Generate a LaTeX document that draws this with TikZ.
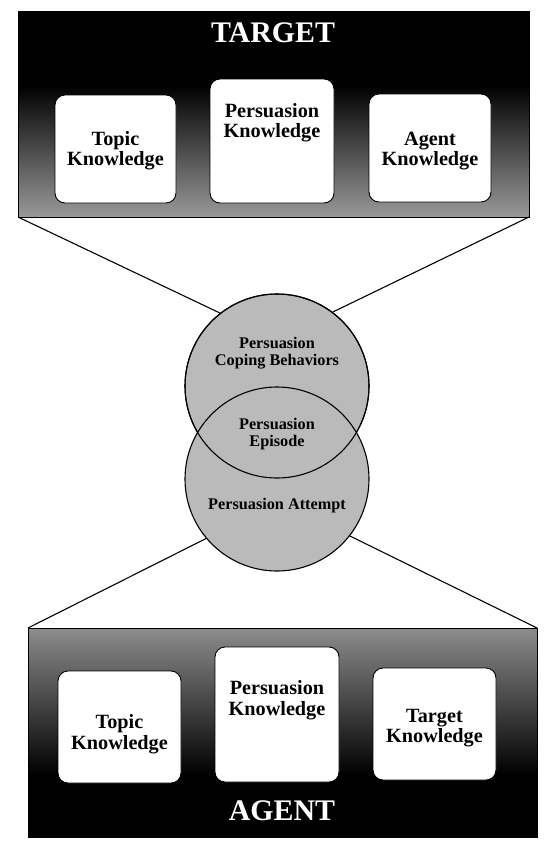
\documentclass[tikz,border=0pt]{standalone}
\usepackage{fontspec}
\setmainfont{Liberation Serif}
\tikzset{
  kbox/.style={draw=black, line width=0.9bp, fill=white, rounded corners=10bp, inner sep=0pt},
  ktext/.style={font=\bfseries\fontsize{20.3}{20.5}\selectfont, align=center, inner sep=0pt},
  ctext/.style={font=\bfseries\fontsize{16.3}{17.5}\selectfont, align=center, inner sep=0pt},
  ptitle/.style={font=\bfseries\fontsize{30}{30}\selectfont, text=white, inner sep=0pt},
  venn/.style={circle, draw=black, line width=1.1bp, fill=black!27, minimum size=184bp, inner sep=0pt},
  conn/.style={line width=1.1bp, draw=black},
  frame/.style={draw=black, line width=0.9bp},
}
\begin{document}
\begin{tikzpicture}[x=1bp, y=-1bp]
\useasboundingbox[fill=white] (0,0) rectangle (554,852);

% ---- top panel (TARGET) ----
\fill[black] (18,11) rectangle (529,86);
\shade[top color=black, bottom color=black!40] (18,85) rectangle (529,217);
\draw[frame] (18,11) rectangle (529,217);
\coordinate (tpSW) at (18,217);
\coordinate (tpSE) at (529,217);
\node[ptitle] (target) at (273,33) {TARGET};

\node[kbox, minimum width=121bp, minimum height=108bp] (tTopic) at (115.5,149) {};
\node[ktext] (tTopicT) at (115.5,151) {Topic\\Knowledge};
\node[kbox, minimum width=124bp, minimum height=124bp] (tPers) at (272,141) {};
\node[ktext] (tPersT) at (272,123) {Persuasion\\Knowledge};
\node[kbox, minimum width=122bp, minimum height=108bp] (tAgent) at (430,148) {};
\node[ktext] (tAgentT) at (430,151) {Agent\\Knowledge};

% ---- bottom panel (AGENT) ----
\shade[top color=black!45, bottom color=black] (28,628) rectangle (537,775);
\fill[black] (28,774) rectangle (537,837);
\draw[frame] (28,628) rectangle (537,837);
\coordinate (bpNW) at (28,628);
\coordinate (bpNE) at (537,628);
\node[ptitle] (agent) at (282,811) {AGENT};

\node[kbox, minimum width=123bp, minimum height=112bp] (bTopic) at (119.5,727) {};
\node[ktext] (bTopicT) at (119.5,734) {Topic\\Knowledge};
\node[kbox, minimum width=124bp, minimum height=135bp] (bPers) at (277,714.5) {};
\node[ktext] (bPersT) at (277,700) {Persuasion\\Knowledge};
\node[kbox, minimum width=123bp, minimum height=112bp] (bTarget) at (434.5,724) {};
\node[ktext] (bTargetT) at (434.5,728) {Target\\Knowledge};

% ---- circles ----
\node[venn] (coping) at (277,386) {};
\node[venn] (attempt) at (277,479) {};
\draw[line width=1.1bp] (coping.center) circle[radius=92bp];

\draw[conn] (tpSW) -- (coping.128);
\draw[conn] (tpSE) -- (coping.53);
\draw[conn] (bpNW) -- (attempt.220);
\draw[conn] (bpNE) -- (attempt.322);

\node[ctext] (copingT) at (277,353) {Persuasion\\Coping Behaviors};
\node[ctext] (episodeT) at (277,434) {Persuasion\\Episode};
\node[ctext] (attemptT) at (277,506) {Persuasion Attempt};
\end{tikzpicture}
\end{document}
